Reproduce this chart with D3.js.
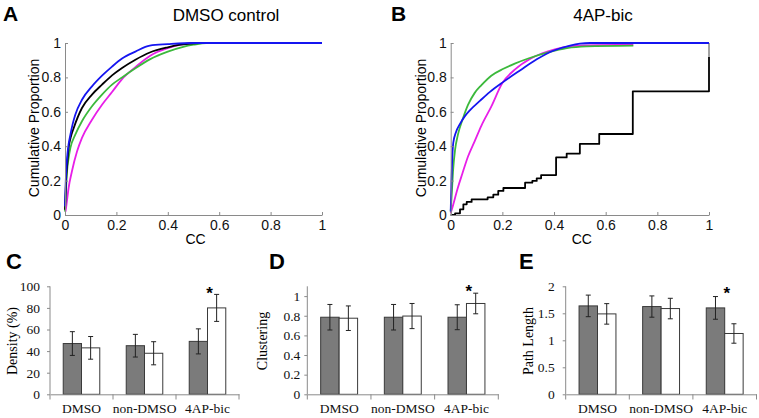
<!DOCTYPE html>
<html><head><meta charset="utf-8">
<script src="https://cdn.jsdelivr.net/npm/d3@7/dist/d3.min.js"></script>
<style>body{margin:0;background:#fff}svg{display:block}</style>
</head><body>
<svg id="c" width="759" height="418"></svg>
<script>
// ---------- DATA ----------
const cdfTicks = [0, 0.2, 0.4, 0.6, 0.8, 1];
// Panel A: DMSO control  ([CC, cumulative proportion])
const aMagenta = [[0.002,0.02],[0.004,0.04],[0.009,0.1],[0.014,0.157],[0.027,0.254],[0.047,0.37],[0.066,0.448],[0.105,0.554],[0.144,0.641],[0.183,0.715],[0.222,0.79],[0.274,0.86],[0.33,0.925],[0.4,0.97],[0.45,0.99],[0.5,1],[0.6,1]];
const aGreen = [[0,0.02],[0.004,0.15],[0.008,0.254],[0.014,0.33],[0.021,0.39],[0.04,0.467],[0.066,0.545],[0.105,0.632],[0.144,0.7],[0.183,0.758],[0.222,0.8],[0.274,0.853],[0.33,0.905],[0.4,0.95],[0.46,0.978],[0.5,0.99],[0.55,1],[0.707,1]];
const aBlack = [[0,0.03],[0.004,0.196],[0.009,0.3],[0.014,0.39],[0.022,0.45],[0.034,0.506],[0.066,0.622],[0.105,0.7],[0.144,0.758],[0.183,0.812],[0.222,0.855],[0.274,0.903],[0.33,0.945],[0.4,0.975],[0.45,0.99],[0.52,1],[0.6,1]];
const aBlue = [[0,0.05],[0.003,0.2],[0.008,0.33],[0.014,0.41],[0.021,0.467],[0.03,0.53],[0.04,0.583],[0.066,0.67],[0.105,0.748],[0.144,0.81],[0.183,0.863],[0.222,0.91],[0.274,0.95],[0.33,0.985],[0.4,0.993],[0.5,1],[1,1]];
// Panel B: 4AP-bic
const bMagenta = [[0,0.01],[0.004,0.03],[0.028,0.16],[0.045,0.24],[0.067,0.34],[0.093,0.43],[0.119,0.52],[0.157,0.63],[0.2,0.767],[0.248,0.845],[0.31,0.91],[0.377,0.952],[0.436,0.975],[0.5,0.985],[0.707,0.99]];
const bGreen = [[0,0.02],[0.004,0.12],[0.009,0.254],[0.017,0.38],[0.028,0.467],[0.048,0.564],[0.067,0.64],[0.093,0.71],[0.119,0.755],[0.157,0.81],[0.204,0.85],[0.248,0.88],[0.3,0.91],[0.377,0.945],[0.45,0.97],[0.526,0.98],[0.707,0.985]];
const bBlue = [[0,0.02],[0.003,0.2],[0.006,0.33],[0.01,0.42],[0.02,0.48],[0.036,0.53],[0.055,0.575],[0.075,0.61],[0.114,0.665],[0.152,0.716],[0.204,0.774],[0.268,0.84],[0.333,0.905],[0.397,0.955],[0.462,0.985],[0.5,0.996],[0.54,1],[1,1]];
const bBlackStepX = [0,0.017,0.036,0.049,0.062,0.081,0.143,0.165,0.184,0.204,0.288,0.316,0.333,0.35,0.408,0.449,0.5,0.575,0.705,1,1];
const bBlackStepP = [0,0.01,0.033,0.062,0.076,0.091,0.103,0.118,0.14,0.157,0.188,0.198,0.213,0.232,0.335,0.357,0.413,0.471,0.719,0.719,0.92];
const bGrayTail = [[1,0.92],[1,1]];

// Bar panels
const groups = ["DMSO", "non-DMSO", "4AP-bic"];
const densityDark = [47, 45, 49];
const densityDarkErr = [11, 10.5, 11.6];
const densityWhite = [43, 38, 80];
const densityWhiteErr = [10.5, 10.7, 12.5];
const densityTicks = [0, 20, 40, 60, 80, 100];
const clusterDark = [0.785, 0.785, 0.785];
const clusterDarkErr = [0.13, 0.13, 0.127];
const clusterWhite = [0.775, 0.797, 0.925];
const clusterWhiteErr = [0.125, 0.128, 0.105];
const clusterTicks = [0, 0.2, 0.4, 0.6, 0.8, 1];
const pathDark = [1.637, 1.625, 1.6];
const pathDarkErr = [0.2, 0.197, 0.21];
const pathWhite = [1.489, 1.588, 1.126];
const pathWhiteErr = [0.19, 0.19, 0.18];
const pathTicks = [0, 0.5, 1, 1.5, 2];
const sigIndex = 2; // group with asterisk

// ---------- DRAW ----------
const svg = d3.select("#c");
const SANS = "'Liberation Sans', Arial, sans-serif";
const SERIF = "'Liberation Serif', 'Times New Roman', serif";

function label(txt, x, y, size, opts = {}) {
  const t = svg.append("text").attr("x", x).attr("y", y).text(txt)
    .attr("font-family", opts.family || SANS).attr("font-size", size)
    .attr("fill", opts.fill || "#000")
    .attr("text-anchor", opts.anchor || "start");
  if (opts.bold) t.attr("font-weight", "bold");
  if (opts.rotate) t.attr("transform", `rotate(-90,${x},${y})`).attr("dominant-baseline", "central");
  return t;
}

function cdfPanel(cfg) {
  const x = d3.scaleLinear().domain([0, 1]).range([cfg.x0, cfg.x1]);
  const y = d3.scaleLinear().domain([0, 1]).range([215, 43]);
  const g = svg.append("g");
  cfg.series.forEach(s => {
    const curve = s.step ? d3.curveStepAfter : (s.data.length > 2 ? d3.curveMonotoneX : d3.curveLinear);
    const ln = d3.line().x(d => x(d[0])).y(d => y(d[1])).curve(curve);
    g.append("path").attr("d", ln(s.data))
      .attr("fill", "none").attr("stroke", s.color).attr("stroke-width", s.w || 1.8)
      .attr("stroke-linejoin", "round");
  });
  const ax = g.append("g").attr("transform", `translate(0,215)`)
    .call(d3.axisBottom(x).tickValues(cdfTicks).tickSizeInner(-3).tickSizeOuter(0).tickPadding(5).tickFormat(d3.format("~g")));
  const ay = g.append("g").attr("transform", `translate(${cfg.x0},0)`)
    .call(d3.axisLeft(y).tickValues(cdfTicks).tickSizeInner(-3).tickSizeOuter(0).tickPadding(4).tickFormat(d3.format("~g")));
  [ax, ay].forEach(a => {
    a.selectAll("path,line").attr("stroke", "#8a8a8a").attr("stroke-width", 1);
    a.selectAll("text").attr("font-family", SANS).attr("font-size", 14).attr("fill", "#111");
  });
  label("CC", (cfg.x0 + cfg.x1) / 2 + 2, 244, 14, { anchor: "middle" });
  label("Cumulative Proportion", cfg.ylabX, 128, 14, { anchor: "middle", rotate: true });
  label(cfg.title, cfg.titleX, 21, 17, { anchor: "middle" });
  label(cfg.letter, cfg.letterX, 21, 21, { bold: true });
}

const bBlack = bBlackStepX.map((v, i) => [v, bBlackStepP[i]]);

cdfPanel({
  x0: 65, x1: 322, title: "DMSO control", titleX: 226, letter: "A", letterX: 3, ylabX: 34,
  series: [
    { data: aMagenta, color: "#e81ee8" },
    { data: aGreen, color: "#3cb93c" },
    { data: aBlack, color: "#000" },
    { data: aBlue, color: "#1515f0" }
  ]
});
cdfPanel({
  x0: 450.7, x1: 709, title: "4AP-bic", titleX: 603, letter: "B", letterX: 391, ylabX: 421,
  series: [
    { data: bMagenta, color: "#e81ee8" },
    { data: bGreen, color: "#3cb93c" },
    { data: bBlack, color: "#000", step: true },
    { data: bGrayTail, color: "#999" },
    { data: bBlue, color: "#1515f0" }
  ]
});

function barPanel(cfg) {
  const x0 = d3.scaleBand().domain(groups).range([cfg.ax0, cfg.ax1]).padding(0);
  const bw = x0.bandwidth();
  const x1 = d3.scaleBand().domain(["dark", "white"]).range([bw * 0.21, bw * 0.79]).padding(0);
  const y = d3.scaleLinear().domain([0, cfg.max]).range([394.3, 286.3]);
  const g = svg.append("g");
  const sets = [
    { key: "dark", v: cfg.dark, e: cfg.darkErr, fill: "#7b7b7b" },
    { key: "white", v: cfg.white, e: cfg.whiteErr, fill: "#fff" }
  ];
  sets.forEach(s => {
    groups.forEach((grp, i) => {
      const bx = x0(grp) + x1(s.key);
      g.append("rect").attr("x", bx).attr("y", y(s.v[i])).attr("width", x1.bandwidth())
        .attr("height", y(0) - y(s.v[i])).attr("fill", s.fill).attr("stroke", "#3a3a3a").attr("stroke-width", 1);
    });
  });
  sets.forEach(s => {
    groups.forEach((grp, i) => {
      const cx = x0(grp) + x1(s.key) + x1.bandwidth() / 2;
      const top = y(s.v[i] + s.e[i]), bot = y(s.v[i] - s.e[i]);
      g.append("line").attr("x1", cx).attr("x2", cx).attr("y1", top).attr("y2", bot).attr("stroke", "#222").attr("stroke-width", 1);
      [top, bot].forEach(yy => g.append("line").attr("x1", cx - 2.5).attr("x2", cx + 2.5).attr("y1", yy).attr("y2", yy).attr("stroke", "#222").attr("stroke-width", 1));
    });
  });
  const sx = x0(groups[sigIndex]) + x1("white") + x1.bandwidth() / 2 - 7;
  label("*", sx, cfg.starY, 17, { anchor: "middle", bold: true });

  const ay = g.append("g").attr("transform", `translate(${cfg.ax0},0)`)
    .call(d3.axisLeft(y).tickValues(cfg.ticks).tickSizeInner(3).tickSizeOuter(0).tickPadding(cfg.pad).tickFormat(d3.format("~g")));
  const ax = g.append("g").attr("transform", `translate(0,394.3)`)
    .call(d3.axisBottom(x0).tickSize(0).tickPadding(9));
  [cfg.ax0, ...groups.map(gg => x0(gg) + bw)].forEach(px =>
    g.append("line").attr("x1", px).attr("x2", px).attr("y1", 394.3).attr("y2", 399.5).attr("stroke", "#8a8a8a"));
  ay.select(".domain").attr("d", `M0,${y(cfg.max)}V${y(0)}`);
  [ax, ay].forEach(a => {
    a.selectAll("path,line").attr("stroke", "#8a8a8a").attr("stroke-width", 1);
    a.selectAll("text").attr("font-family", SERIF).attr("font-size", 13.5).attr("fill", "#111");
  });
  label(cfg.ylab, cfg.ylabX, 341, 14, { anchor: "middle", rotate: true, family: SERIF });
  label(cfg.letter, cfg.letterX, 269, 22, { bold: true });
}

barPanel({ ax0: 50, ax1: 239, max: 100, dark: densityDark, darkErr: densityDarkErr, white: densityWhite, whiteErr: densityWhiteErr,
  ticks: densityTicks, pad: 7, ylab: "Density (%)", ylabX: 12, letter: "C", letterX: 6, starY: 299 });
barPanel({ ax0: 307.3, ax1: 498.3, max: 1.1, dark: clusterDark, darkErr: clusterDarkErr, white: clusterWhite, whiteErr: clusterWhiteErr,
  ticks: clusterTicks, pad: 4, ylab: "Clustering", ylabX: 262, letter: "D", letterX: 269, starY: 297 });
barPanel({ ax0: 565.7, ax1: 756.5, max: 2, dark: pathDark, darkErr: pathDarkErr, white: pathWhite, whiteErr: pathWhiteErr,
  ticks: pathTicks, pad: 8, ylab: "Path Length", ylabX: 528, letter: "E", letterX: 519, starY: 299 });
</script>
</body></html>
